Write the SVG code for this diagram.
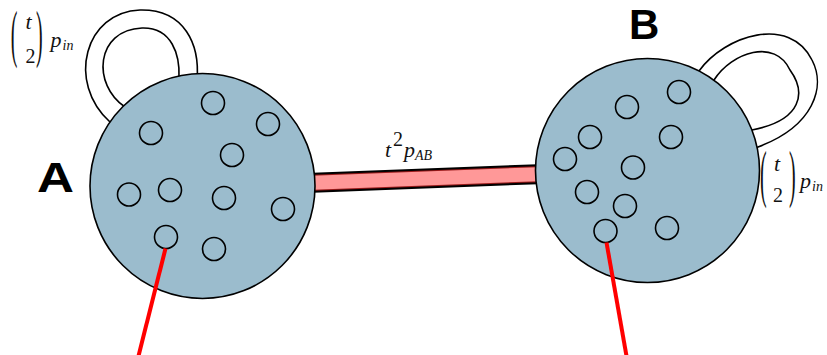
<svg xmlns="http://www.w3.org/2000/svg" width="827" height="355" viewBox="0 0 827 355">
<style>
.big{fill:#9bbccd;stroke:#000;stroke-width:1.6}
.dot{fill:none;stroke:#000;stroke-width:1.6}
.loop{fill:#fff;stroke:#000;stroke-width:1.6}
.red{stroke:#ff0000;stroke-width:4;fill:none}
.m{font-family:"Liberation Serif",serif;font-size:20px;fill:#111}
.mi{font-family:"Liberation Serif",serif;font-style:italic;font-size:22px;fill:#111}
.sub{font-family:"Liberation Serif",serif;font-style:italic;font-size:14px;fill:#111}
.lab{font-family:"Liberation Sans",Arial,sans-serif;font-weight:bold;font-size:42px;fill:#000}
</style>
<rect width="827" height="355" fill="#fff"/>
<g id="connectors">
<line x1="300" y1="183.3" x2="545" y2="173.9" stroke="#000" stroke-width="20"/>
<line x1="300" y1="183.3" x2="545" y2="173.9" stroke="#9a1a1a" stroke-width="16"/>
<line x1="300" y1="183.3" x2="545" y2="173.9" stroke="#ff9898" stroke-width="14"/>
<text class="mi" x="385" y="157">t</text>
<text class="m" x="393" y="146" font-size="13">2</text>
<text class="mi" x="404" y="157">p</text>
<text class="sub" x="415" y="160">AB</text>
</g>
<g id="nodeA">
<path class="loop" d="M110,122 C66,82 85,12 140,10 C185,9 200,45 197,80 L205,95 L118,135 Z"/>
<path class="loop" d="M125,107 C92,85 95,30 142,28 C172,27 180,55 179,78 L185,100 L130,120 Z"/>
<circle class="big" cx="202.5" cy="186" r="112.5"/>
<circle class="dot" cx="213" cy="103" r="11.5"/>
<circle class="dot" cx="151" cy="133" r="11.5"/>
<circle class="dot" cx="268" cy="124" r="11.5"/>
<circle class="dot" cx="232" cy="155" r="11.5"/>
<circle class="dot" cx="129" cy="194.5" r="11.5"/>
<circle class="dot" cx="170" cy="190" r="11.5"/>
<circle class="dot" cx="224" cy="198" r="11.5"/>
<circle class="dot" cx="283" cy="209" r="11.5"/>
<circle class="dot" cx="166" cy="237" r="11.5"/>
<circle class="dot" cx="214" cy="249" r="11.5"/>
<line class="red" x1="165.5" y1="248.5" x2="138.5" y2="356"/>
<text class="lab" x="37" y="191.7" textLength="37" lengthAdjust="spacingAndGlyphs">A</text>
<text class="m" transform="translate(10.7,55.2) scale(1,3.15)">(</text>
<text class="mi" x="25.5" y="29.3">t</text>
<text class="m" x="25.5" y="63.3">2</text>
<text class="m" transform="translate(36,55.2) scale(1,3.15)">)</text>
<text class="mi" x="50.5" y="46.7">p</text>
<text class="sub" x="62.5" y="50">in</text>
</g>
<g id="nodeB">
<path class="loop" d="M699,71 C725,35 790,15 812,60 C826,87 814,126 758,147 L740,160 L690,90 Z"/>
<path class="loop" d="M714,80 C732,52 775,38 790,70 C806,92 803,120 752,130 L735,150 L705,95 Z"/>
<circle class="big" cx="647.5" cy="170.5" r="112"/>
<circle class="dot" cx="679" cy="92" r="11.5"/>
<circle class="dot" cx="627" cy="107" r="11.5"/>
<circle class="dot" cx="590" cy="137" r="11.5"/>
<circle class="dot" cx="671" cy="137" r="11.5"/>
<circle class="dot" cx="565" cy="159" r="11.5"/>
<circle class="dot" cx="633" cy="167.5" r="11.5"/>
<circle class="dot" cx="587" cy="192" r="11.5"/>
<circle class="dot" cx="625" cy="206" r="11.5"/>
<circle class="dot" cx="605.5" cy="231" r="11.5"/>
<circle class="dot" cx="667" cy="228" r="11.5"/>
<line class="red" x1="606.5" y1="242.5" x2="626.5" y2="356"/>
<text class="lab" x="629" y="39.3">B</text>
<text class="m" transform="translate(760,195.2) scale(1,3.15)">(</text>
<text class="mi" x="774" y="171">t</text>
<text class="m" x="773" y="201.7">2</text>
<text class="m" transform="translate(789,195.2) scale(1,3.15)">)</text>
<text class="mi" x="800" y="188">p</text>
<text class="sub" x="812" y="191">in</text>
</g>
</svg>
